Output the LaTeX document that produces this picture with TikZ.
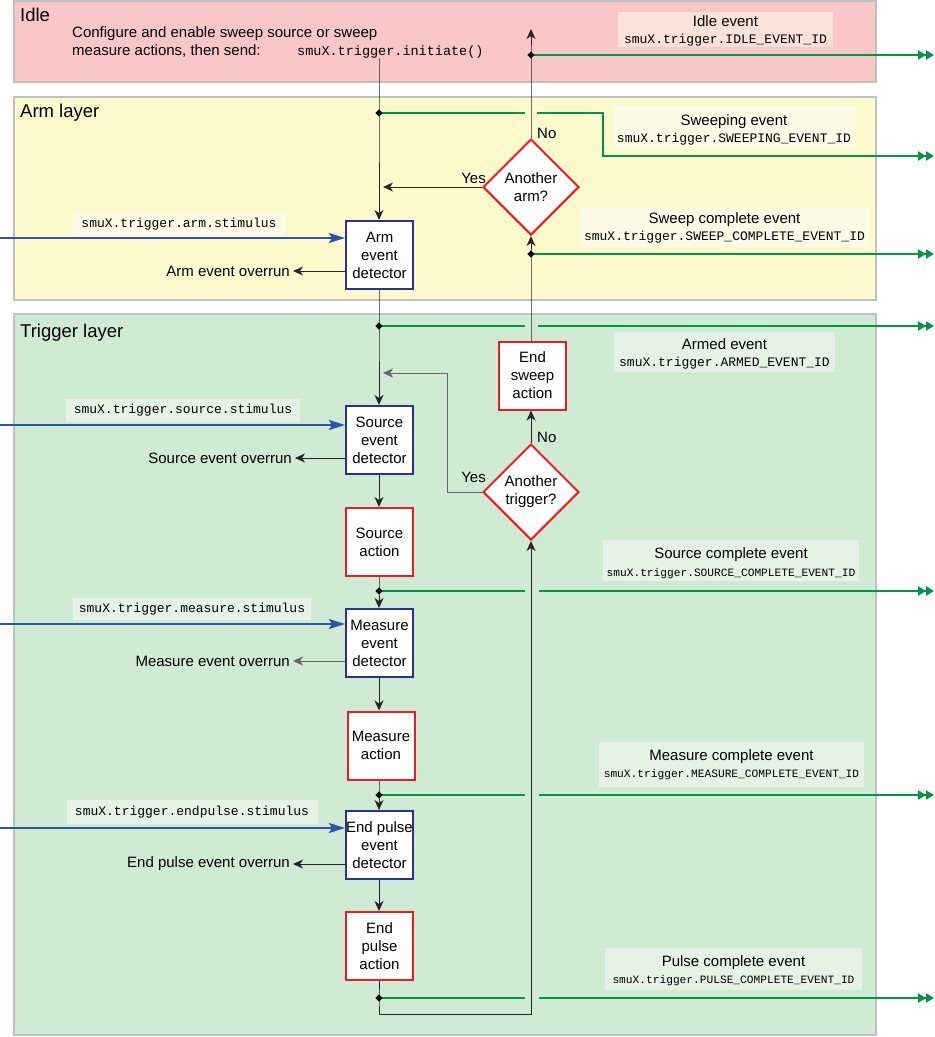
\documentclass[tikz,border=0pt]{standalone}
\usepackage{fontspec}
\setmainfont{Liberation Sans}
\setmonofont{Liberation Mono}
\usetikzlibrary{shapes.geometric,arrows.meta}

\definecolor{idlefill}{RGB}{249,198,201}
\definecolor{armfill}{RGB}{252,250,205}
\definecolor{trigfill}{RGB}{207,235,211}
\definecolor{idlelbl}{RGB}{252,226,216}
\definecolor{armlbl}{RGB}{252,251,230}
\definecolor{triglbl}{RGB}{230,242,230}
\definecolor{panelgray}{RGB}{192,192,192}
\definecolor{evgreen}{RGB}{0,150,70}
\definecolor{stimblue}{RGB}{46,84,170}
\definecolor{detblue}{RGB}{46,49,146}
\definecolor{actred}{RGB}{237,28,36}
\definecolor{flowgray}{RGB}{100,100,100}

\newcommand{\idcode}{\ttfamily\fontsize{13}{18}\selectfont}
\newcommand{\idsmall}{\ttfamily\fontsize{11.2}{18}\selectfont}

\begin{document}
\begin{tikzpicture}[x=1pt,y=-1pt,
  panel/.style={draw=panelgray,line width=2pt},
  heading/.style={anchor=base west,inner sep=0pt,font=\fontsize{18.5}{22}\selectfont},
  body/.style={inner sep=0pt,font=\fontsize{15}{18}\selectfont},
  evbox/.style={draw=detblue,fill=white,line width=2pt,minimum width=67pt,minimum height=68pt,
    inner sep=0pt,align=center,font=\fontsize{15}{18}\selectfont},
  actbox/.style={evbox,draw=actred},
  decision/.style={diamond,draw=actred,fill=white,line width=2pt,minimum width=96pt,
    minimum height=96pt,inner sep=0pt,align=center,font=\fontsize{15}{18}\selectfont},
  tagbox/.style={inner sep=0pt},
  tag/.style={inner sep=0pt,align=center,font=\fontsize{15}{17}\selectfont},
  stimtag/.style={inner sep=0pt,font=\idcode},
  overrun/.style={anchor=east,inner ysep=0pt,inner xsep=3pt,font=\fontsize{15}{18}\selectfont},
  flow/.style={draw=black!85,line width=1pt,-{Stealth[length=10pt,width=9pt,inset=3pt]}},
  evline/.style={draw=evgreen,line width=2.2pt},
  evout/.style={evline,-{Triangle[length=8pt,width=9pt]Triangle[length=8pt,width=9pt]}},
  stim/.style={draw=stimblue,line width=2.2pt,-{Stealth[length=16pt,width=10pt,inset=3pt]}},
  dot/.style={diamond,fill=black,inner sep=0pt,minimum size=7.5pt},
]
\useasboundingbox (0,0) rectangle (935,1037);

% ---- layer panels ----
\draw[panel,fill=idlefill] (14,1) rectangle (876,82);
\draw[panel,fill=armfill]  (14,97) rectangle (876,300);
\draw[panel,fill=trigfill] (14,314) rectangle (876,1035);

\node[heading] (hidle) at (20,21) {Idle};
\node[heading] (harm)  at (20,117) {Arm layer};
\node[heading] (htrig) at (20,337) {Trigger layer};

% ---- idle text ----
\node[body,anchor=base west] (cfg1) at (72,37) {Configure and enable sweep source or sweep};
\node[body,anchor=base west] (cfg2) at (72,55) {measure actions, then send:};
\node[inner sep=0pt,anchor=base west,font=\ttfamily\fontsize{13.5}{16}\selectfont] (init) at (297,55) {smuX.trigger.initiate()};

% ---- event tags: shaded backgrounds ----
\node[tagbox,fill=idlelbl,minimum width=215pt,minimum height=35pt] (tidle) at (725.5,29.5) {};
\node[tagbox,fill=armlbl,minimum width=242pt,minimum height=43pt] (tsweeping) at (734,127.5) {};
\node[tagbox,fill=armlbl,minimum width=289pt,minimum height=39pt] (tsweepc) at (724.5,227.5) {};
\node[tagbox,fill=triglbl,minimum width=221pt,minimum height=40pt] (tarmed) at (724.5,352) {};
\node[tagbox,fill=triglbl,minimum width=256pt,minimum height=41pt] (tsrcc) at (731,560.5) {};
\node[tagbox,fill=triglbl,minimum width=265pt,minimum height=45pt] (tmeasc) at (731.5,764.5) {};
\node[tagbox,fill=triglbl,minimum width=257pt,minimum height=42pt] (tpulsec) at (733.5,969) {};

% ---- event tags: texts ----
\node[tag] (xidle) at ([yshift=-1.5pt]tidle.center)
  {Idle event\\[0pt]{\idcode smuX.trigger.IDLE\_EVENT\_ID}};
\node[tag] (xsweeping) at ([yshift=-2.5pt]tsweeping.center)
  {Sweeping event\\[0pt]{\idcode smuX.trigger.SWEEPING\_EVENT\_ID}};
\node[tag] (xsweepc) at ([yshift=-0.5pt]tsweepc.center)
  {Sweep complete event\\[0pt]{\idcode smuX.trigger.SWEEP\_COMPLETE\_EVENT\_ID}};
\node[tag] (xarmed) at ([yshift=-1.5pt]tarmed.center)
  {Armed event\\[0pt]{\idcode smuX.trigger.ARMED\_EVENT\_ID}};
\node[tag] (xsrcc) at ([yshift=-2.5pt]tsrcc.center)
  {Source complete event\\[1pt]{\idsmall smuX.trigger.SOURCE\_COMPLETE\_EVENT\_ID}};
\node[tag] (xmeasc) at ([yshift=-0.5pt]tmeasc.center)
  {Measure complete event\\[0pt]{\idsmall smuX.trigger.MEASURE\_COMPLETE\_EVENT\_ID}};
\node[tag] (xpulsec) at ([yshift=-2pt]tpulsec.center)
  {Pulse complete event\\[0pt]{\idsmall smuX.trigger.PULSE\_COMPLETE\_EVENT\_ID}};

% ---- stimulus tags ----
\node[stimtag,fill=armlbl,minimum width=212pt,minimum height=23pt] (sarm) at (179,224.5) {smuX.trigger.arm.stimulus};
\node[stimtag,fill=triglbl,minimum width=234pt,minimum height=23pt] (ssrc) at (183,410.5) {smuX.trigger.source.stimulus};
\node[stimtag,fill=triglbl,minimum width=238pt,minimum height=22pt] (smeas) at (192,609) {smuX.trigger.measure.stimulus};
\node[stimtag,fill=triglbl,minimum width=251pt,minimum height=24pt] (spulse) at (192,812) {smuX.trigger.endpulse.stimulus};

% ---- blocks ----
\node[evbox]  (armdet)  at (379.5,255) {Arm\\event\\detector};
\node[evbox]  (srcdet)  at (379.5,440) {Source\\event\\detector};
\node[actbox] (srcact)  at (379.5,542) {Source\\action};
\node[evbox]  (measdet) at (379.5,643) {Measure\\event\\detector};
\node[actbox] (measact) at (381,745.5) {Measure\\action};
\node[evbox]  (epdet)   at (379.5,845) {End pulse\\event\\detector};
\node[actbox] (epact)   at (379.5,946) {End\\pulse\\action};
\node[actbox] (endsweep) at (532.5,375.5) {End\\sweep\\action};
\node[decision] (decarm)  at (531,187) {Another\\arm?};
\node[decision] (dectrig) at (531,492) {Another\\trigger?};

% ---- junction points ----
\coordinate (jsweeping) at (379,113);
\coordinate (jidle)     at (531,55);
\coordinate (jsweepc)   at (531,254);
\coordinate (jarmed)    at (379,326);
\coordinate (jsrcc)     at (379,591);
\coordinate (jmeasc)    at (379,795);
\coordinate (jpulsec)   at (379,998);

% ---- outputs and inputs ----
\coordinate (oidle)     at (934,55);
\coordinate (osweeping) at (934,156);
\coordinate (osweepc)   at (934,254);
\coordinate (oarmed)    at (934,326);
\coordinate (osrcc)     at (934,591);
\coordinate (omeasc)    at (934,795);
\coordinate (opulsec)   at (934,998);
\coordinate (iarm)   at (0,238);
\coordinate (isrc)   at (0,425);
\coordinate (imeas)  at (0,624);
\coordinate (ipulse) at (0,828);
\coordinate (idleret) at (531,29);
\coordinate (loopcorner) at (447,373);
\coordinate (loopin) at (383,373);
\coordinate (armin) at (383,187);
\coordinate (bottomturn) at (531,1014);

% ---- green event lines ----
\draw[evout] (jidle) -- (oidle);
\draw[evline] (jsweeping) -- (525,113);
\draw[evout] (537,113) -- (603,113) -- (603,156) -- (osweeping);
\draw[evout] (jsweepc) -- (osweepc);
\draw[evline] (jarmed) -- (525,326);
\draw[evout] (538,326) -- (oarmed);
\draw[evline] (jsrcc) -- (525,591);
\draw[evout] (539,591) -- (osrcc);
\draw[evline] (jmeasc) -- (525,795);
\draw[evout] (539,795) -- (omeasc);
\draw[evline] (jpulsec) -- (525,998);
\draw[evout] (539,998) -- (opulsec);

% ---- stimulus inputs ----
\draw[stim] (iarm) -- (armdet.west |- iarm);
\draw[stim] (isrc) -- (srcdet.west |- isrc);
\draw[stim] (imeas) -- (measdet.west |- imeas);
\draw[stim] (ipulse) -- (epdet.west |- ipulse);

% ---- overrun outputs ----
\node[overrun] (ovarm)   at (293,271) {Arm event overrun};
\node[overrun] (ovsrc)   at (295,458) {Source event overrun};
\node[overrun] (ovmeas)  at (293,661) {Measure event overrun};
\node[overrun] (ovpulse) at (293,864) {End pulse event overrun};
\draw[flow] (armdet.west |- ovarm) -- (ovarm.east);
\draw[flow] (srcdet.west |- ovsrc) -- (ovsrc.east);
\draw[flow,draw=flowgray] (measdet.west |- ovmeas) -- (ovmeas.east);
\draw[flow] (epdet.west |- ovpulse) -- (ovpulse.east);

% ---- main flow ----
\draw[flow] (init.south -| jsweeping) -- (jsweeping) -- (jsweeping |- armdet.north);
\draw[flow] (decarm.west) -- (armin);
\draw[flow] (decarm.north) -- (jidle) -- (idleret);
\draw[flow] (armdet.south -| jarmed) -- (jarmed) -- (jarmed |- srcdet.north);
\draw[flow] (srcdet.south -| jarmed) -- (jarmed |- srcact.north);
\draw[flow] (srcact.south -| jsrcc) -- (jsrcc) -- (jsrcc |- measdet.north);
\draw[flow] (measdet.south -| jsrcc) -- (jsrcc |- measact.north);
\draw[flow] (measact.south -| jmeasc) -- (jmeasc) -- (jmeasc |- epdet.north);
\draw[flow] (epdet.south -| jmeasc) -- (jmeasc |- epact.north);
\draw[flow] (epact.south -| jpulsec) -- (jpulsec) |- (bottomturn) -- (dectrig.south);
\draw[flow] (dectrig.north) -- (dectrig.north |- endsweep.south);
\draw[flow] (endsweep.north -| jsweepc) -- (jsweepc) -- (decarm.south);
\draw[flow,draw=flowgray] (dectrig.west) -| (loopcorner) -- (loopin);

% ---- junction markers ----
\foreach \j in {jsweeping,jidle,jsweepc,jarmed,jsrcc,jmeasc,jpulsec}
  \node[dot] at (\j) {};

% ---- decision labels ----
\node[body,anchor=west] (noarm)   at (537,133) {No};
\node[body,anchor=east] (yesarm)  at (486,178) {Yes};
\node[body,anchor=west] (notrig)  at (537,437) {No};
\node[body,anchor=east] (yestrig) at (486,477) {Yes};
\end{tikzpicture}
\end{document}
